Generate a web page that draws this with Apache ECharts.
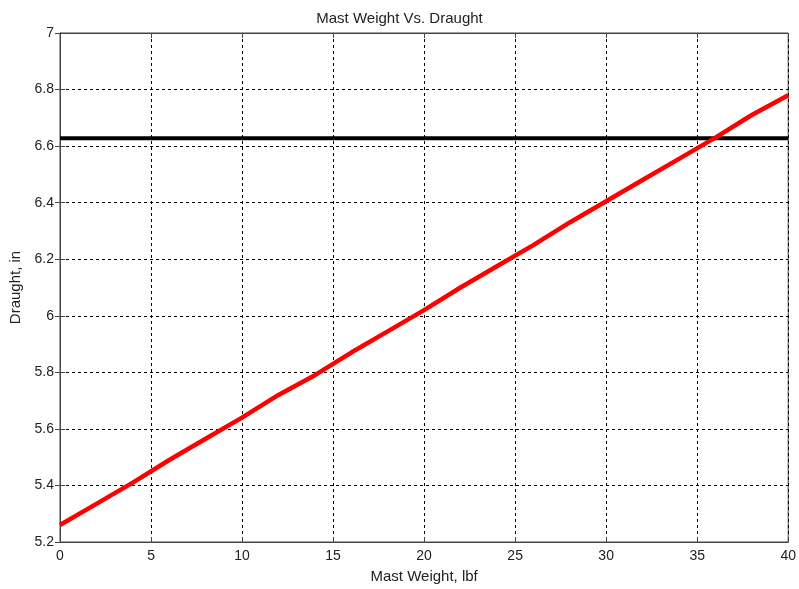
<!DOCTYPE html>
<html>
<head>
<meta charset="utf-8">
<script src="https://cdn.jsdelivr.net/npm/echarts@6/dist/echarts.min.js"></script>
<style>
  html, body { margin: 0; padding: 0; background: #fff; }
  #chart { width: 799px; height: 589px; }
</style>
</head>
<body>
<div id="chart"></div>
<script>
// mast weight (lbf) and resulting draught (in)
const weights = [0, 2, 4, 6, 8, 10, 12, 14, 16, 18, 20, 22, 24, 26, 28, 30, 32, 34, 36, 38, 40];
const draught = [5.26, 5.335, 5.41, 5.49, 5.565, 5.64, 5.72, 5.79, 5.87, 5.945, 6.02,
  6.10, 6.175, 6.25, 6.33, 6.405, 6.48, 6.555, 6.63, 6.71, 6.78];
const limitX = [0, 40];
const limitY = [6.628, 6.628];

const txt = "#222";
const font = "Liberation Sans, Arial, sans-serif";

const gridLine = { show: true, lineStyle: { color: "#000", type: [3, 3], width: 1 } };

var myChart = echarts.init(document.getElementById("chart"));
myChart.setOption({
  animation: false,
  title: {
    text: "Mast Weight Vs. Draught",
    left: "center",
    top: 6,
    textStyle: { fontSize: 15, fontWeight: "normal", color: txt, fontFamily: font },
  },
  grid: { left: 60, right: 7, top: 33, bottom: 45, show: true, borderColor: "#444", borderWidth: 1 },
  xAxis: [
    {
      type: "value",
      min: 0, max: 40, interval: 5,
      name: "Mast Weight, lbf",
      nameLocation: "middle",
      nameGap: 27,
      nameTextStyle: { fontSize: 15, color: txt, fontFamily: font },
      axisLine: { show: true, lineStyle: { color: "#444" } },
      axisTick: { inside: true, length: 5, lineStyle: { color: "#444" } },
      axisLabel: { fontSize: 14, color: txt, fontFamily: font, margin: 7 },
      splitLine: gridLine,
    },
    {
      type: "value", position: "top",
      min: 0, max: 40, interval: 5,
      axisLine: { show: true, lineStyle: { color: "#444" } },
      axisTick: { inside: true, length: 5, lineStyle: { color: "#444" } },
      axisLabel: { show: false },
      splitLine: { show: false },
    },
  ],
  yAxis: [
    {
      type: "value",
      min: 5.2, max: 7, interval: 0.2,
      name: "Draught, in",
      nameLocation: "middle",
      nameGap: 36,
      nameTextStyle: { fontSize: 15, color: txt, fontFamily: font },
      axisLine: { show: true, lineStyle: { color: "#444" } },
      axisTick: { inside: true, length: 5, lineStyle: { color: "#444" } },
      axisLabel: { fontSize: 14, color: txt, fontFamily: font, margin: 6 },
      splitLine: gridLine,
    },
    {
      type: "value", position: "right",
      min: 5.2, max: 7, interval: 0.2,
      axisLine: { show: true, lineStyle: { color: "#444" } },
      axisTick: { inside: true, length: 5, lineStyle: { color: "#444" } },
      axisLabel: { show: false },
      splitLine: { show: false },
    },
  ],
  series: [
    {
      name: "limit",
      type: "line",
      data: limitX.map((x, i) => [x, limitY[i]]),
      showSymbol: false,
      lineStyle: { color: "#000", width: 4 },
      z: 3,
    },
    {
      name: "draught",
      type: "line",
      data: weights.map((w, i) => [w, draught[i]]),
      showSymbol: false,
      lineStyle: { color: "#ff0000", width: 4.5 },
      z: 4,
    },
  ],
});
</script>
</body>
</html>
